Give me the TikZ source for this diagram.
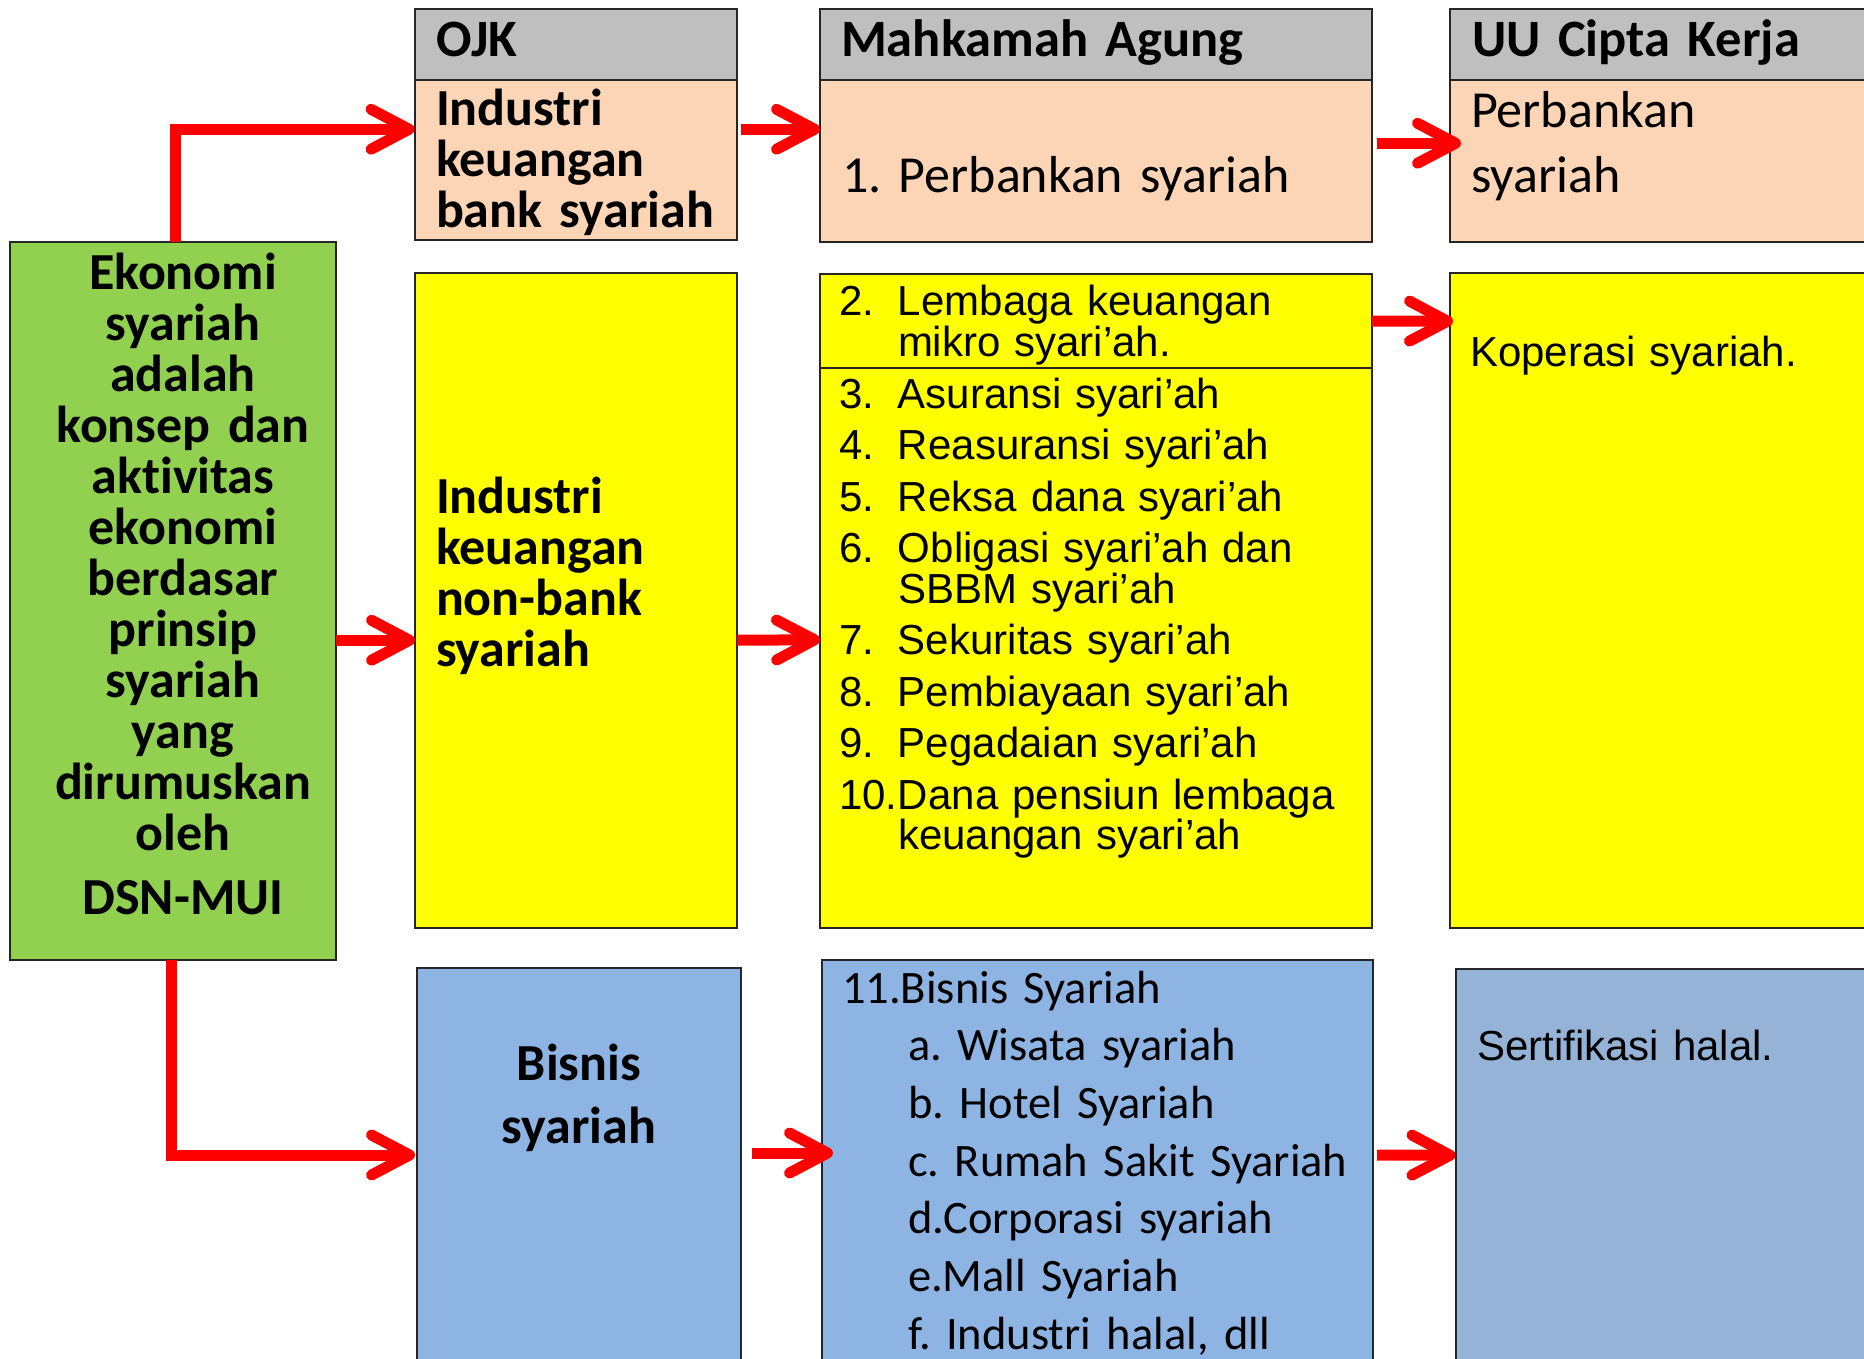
\documentclass[tikz,border=0pt]{standalone}
\usepackage{fontspec}
\setmainfont{Carlito}[Ligatures=NoCommon]
\newfontfamily\arialfont{Liberation Sans}
\usepackage{xcolor}
\usetikzlibrary{arrows.meta}

\definecolor{hdrgray}{HTML}{BFBFBF}
\definecolor{peach}{HTML}{FBD5B5}
\definecolor{ylw}{HTML}{FFFF00}
\definecolor{grn}{HTML}{92D050}
\definecolor{blu}{HTML}{8EB4E3}
\definecolor{blugray}{HTML}{95B3D7}
\definecolor{arrred}{HTML}{FF0000}

\newcommand{\numitem}[1]{\makebox[59pt][l]{#1}}

\tikzset{
  box/.style={draw=black!85, line width=2pt, inner sep=0pt, outer sep=0pt},
  txt/.style={inner sep=0pt, outer sep=0pt, text width=#1, align=left, anchor=base west},
  txt/.default=600pt,
  hdrfont/.style={font=\fontsize{52.5}{60}\selectfont\bfseries},
  boldfont/.style={font=\fontsize{52}{51}\selectfont\bfseries},
  listfont/.style={font=\arialfont\fontsize{42}{40.5}\selectfont},
  flow/.style={draw=arrred, line width=11pt, -{Straight Barb[length=38pt,width=40pt,round]}}
}

\begin{document}
\frenchspacing
\begin{tikzpicture}[x=1pt,y=-1pt]
\useasboundingbox (0,0) rectangle (1864,1359);

% left column
\node[box, fill=grn, minimum width=326.5pt, minimum height=717.5pt] (green) at (172.75,601.25) {};
\node[txt=326pt, align=center, anchor=base, boldfont] (greent) at (183,290)
  {Ekonomi\\ syariah\\ adalah\\ konsep dan\\ aktivitas\\ ekonomi\\ berdasar\\ prinsip\\ syariah\\ yang\\ dirumuskan\\ oleh\\[13pt] DSN-MUI};

% OJK
\node[box, fill=hdrgray, minimum width=322.5pt, minimum height=70.5pt] (ojkh) at (575.75,44.75) {};
\node[box, fill=peach, minimum width=322.5pt, minimum height=160.5pt] (ojkb) at (575.75,160.25) {};
\node[box, fill=ylw, minimum width=322pt, minimum height=654.5pt] (yel1) at (576,600.25) {};
\node[box, fill=blu, minimum width=323.5pt, minimum height=412pt] (blue1) at (578.75,1174) {};
\node[txt, hdrfont] (ojkt) at (436,57) {OJK};
\node[txt=300pt, boldfont] (ojkbt) at (436,126) {Industri\\ keuangan\\ bank syariah};
\node[txt=300pt, boldfont] (yel1t) at (436,513) {Industri\\ keuangan\\ non-bank\\ syariah};
\node[txt=300pt, align=center, anchor=base, font=\fontsize{52}{63}\selectfont\bfseries] (blue1t) at (579,1080) {Bisnis\\ syariah};

% Mahkamah Agung
\node[box, fill=hdrgray, minimum width=552pt, minimum height=70.5pt] (mahh) at (1096,44.75) {};
\node[box, fill=peach, minimum width=552pt, minimum height=162.5pt] (mahb) at (1096,161.25) {};
\node[box, fill=ylw, minimum width=552pt, minimum height=94pt] (yel2a) at (1096,321) {};
\node[box, fill=ylw, minimum width=552pt, minimum height=559.5pt] (yel2b) at (1096,647.75) {};
\node[box, fill=blu, minimum width=551pt, minimum height=420pt] (blue2) at (1097.5,1170) {};
\node[txt, hdrfont] (maht) at (841,57) {Mahkamah Agung};
\node[txt, font=\fontsize{52}{60}\selectfont] (mahbt) at (842,193) {1. Perbankan syariah};
\node[txt, listfont] (yel2at) at (839,316)
  {\numitem{2.}Lembaga keuangan\\ \hspace*{59pt}mikro syari’ah.};
\node[txt, listfont] (yel2bt) at (839,408)
  {\numitem{3.}Asuransi syari’ah\\[11pt]
   \numitem{4.}Reasuransi syari’ah\\[11pt]
   \numitem{5.}Reksa dana syari’ah\\[11pt]
   \numitem{6.}Obligasi syari’ah dan\\ \hspace*{59pt}SBBM syari’ah\\[11pt]
   \numitem{7.}Sekuritas syari’ah\\[11pt]
   \numitem{8.}Pembiayaan syari’ah\\[11pt]
   \numitem{9.}Pegadaian syari’ah\\[11pt]
   \numitem{10.}Dana pensiun lembaga\\ \hspace*{59pt}keuangan syari’ah};
\node[txt, font=\fontsize{46.5}{57.7}\selectfont] (blue2t) at (842,1003)
  {11.Bisnis Syariah\\
   \hspace*{66pt}a. Wisata syariah\\
   \hspace*{66pt}b. Hotel Syariah\\
   \hspace*{66pt}c. Rumah Sakit Syariah\\
   \hspace*{66pt}d.Corporasi syariah\\
   \hspace*{66pt}e.Mall Syariah\\
   \hspace*{66pt}f. Industri halal, dll};

% UU Cipta Kerja
\node[box, fill=hdrgray, minimum width=430pt, minimum height=70.5pt] (uuh) at (1665,44.75) {};
\node[box, fill=peach, minimum width=430pt, minimum height=162.5pt] (uub) at (1665,161.25) {};
\node[box, fill=ylw, minimum width=430pt, minimum height=654.5pt] (yel3) at (1665,600.25) {};
\node[box, fill=blugray, minimum width=424.5pt, minimum height=411.5pt] (blue3) at (1667.75,1174.25) {};
\node[txt, hdrfont] (uut) at (1472,57) {UU Cipta Kerja};
\node[txt, font=\fontsize{52}{65}\selectfont] (uubt) at (1471,128) {Perbankan\\ syariah};
\node[txt, listfont] (yel3t) at (1470,366) {Koperasi syariah.};
\node[txt, listfont] (blue3t) at (1477,1060) {Sertifikasi halal.};

% arrows
\draw[flow] ([xshift=3pt]green.north) |- ([yshift=31pt]ojkb.west);
\draw[flow] ([yshift=-39pt]green.east) -- ([yshift=-40pt]yel1.west);
\draw[flow] ([xshift=-1pt]green.south) |- ([xshift=-2pt,yshift=19pt]blue1.west);

\draw[flow] ([xshift=4pt,yshift=31pt]ojkb.east) -- ([yshift=32pt]mahb.west);
\draw[flow] ([yshift=-40pt]yel1.east) -- ([yshift=8pt]yel2b.west);
\draw[flow] ([xshift=11pt,yshift=21pt]blue1.east) -- ([xshift=11pt,yshift=17pt]blue2.west);

\draw[flow] ([xshift=5pt,yshift=18pt]mahb.east) -- ([xshift=11pt,yshift=18pt]uub.west);
\draw[flow] (yel2a.east) -- ([xshift=3pt,yshift=279pt]yel3.west);
\draw[flow] ([xshift=4pt,yshift=15pt]blue2.east) -- ([yshift=19pt]blue3.west);
\end{tikzpicture}
\end{document}
